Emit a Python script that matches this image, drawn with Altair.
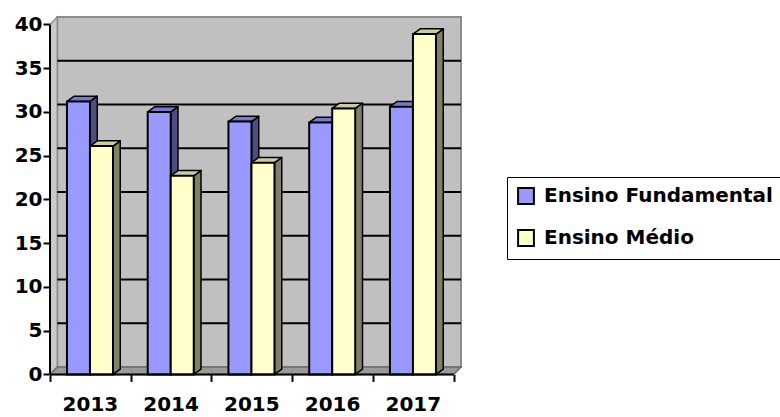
import altair as alt
import pandas as pd

years = ["2013", "2014", "2015", "2016", "2017"]
fundamental = [31.2, 30.0, 28.9, 28.8, 30.6]
medio = [26.1, 22.7, 24.2, 30.4, 38.9]
series_names = ["Ensino Fundamental", "Ensino Médio"]
y_ticks = [0, 5, 10, 15, 20, 25, 30, 35, 40]

FRONT = {"Ensino Fundamental": "#9999FF", "Ensino Médio": "#FFFFCC"}
SIDE = {"Ensino Fundamental": "#4D4D80", "Ensino Médio": "#808066"}
TOP = {"Ensino Fundamental": "#7A7ACC", "Ensino Médio": "#CCCCA3"}

# pseudo-3D geometry (data units)
DXW, DYW = 0.09, 0.85      # wall depth
DXB, DYB = 0.09, 0.6       # bar depth
BAR_L = {"Ensino Fundamental": 0.21, "Ensino Médio": 0.495}
BAR_W = 0.285
YMAX = 40
N = len(years)

xs = alt.Scale(domain=[0, N + DXW], nice=False, zero=False)
ys = alt.Scale(domain=[0, YMAX + DYW], nice=False, zero=False)
FONT = "DejaVu Sans"
xaxis = alt.Axis(values=list(range(N + 1)), labels=False, tickSize=7, tickWidth=2,
                 tickColor="black", domain=False, grid=False, title=None)
yaxis = alt.Axis(values=y_ticks, tickSize=7, tickWidth=2, tickColor="black",
                 domain=False, grid=False, title=None, labelFont=FONT,
                 labelFontWeight="bold", labelFontSize=20, labelColor="black",
                 labelPadding=1)


def X(f):
    return alt.X(f, type="quantitative", scale=xs, axis=xaxis)


def Y(f):
    return alt.Y(f, type="quantitative", scale=ys, axis=yaxis)


front_rows, side_rows, top_rows = [], [], []
for s, vals in zip(series_names, [fundamental, medio]):
    for i, v in enumerate(vals):
        x0 = i + BAR_L[s]
        x1 = x0 + BAR_W
        bid = f"{s}-{i}"
        front_rows.append({"serie": s, "x": x0, "x2": x1, "y": v, "y2": 0})
        side_rows += [
            {"id": bid, "fill": SIDE[s], "x": x1, "y": v, "y2": 0},
            {"id": bid, "fill": SIDE[s], "x": x1 + DXB, "y": v + DYB, "y2": DYB},
        ]
        top_rows += [
            {"id": bid, "fill": TOP[s], "y": v, "x": x0, "x2": x1},
            {"id": bid, "fill": TOP[s], "y": v + DYB, "x": x0 + DXB, "x2": x1 + DXB},
        ]

front_df = pd.DataFrame(front_rows)
side_df = pd.DataFrame(side_rows)
top_df = pd.DataFrame(top_rows)

back_wall = alt.Chart(pd.DataFrame([{"x": DXW, "x2": N + DXW, "y": DYW, "y2": YMAX + DYW}])).mark_rect(
    fill="#C0C0C0", stroke="#8C8C8C", strokeWidth=2
).encode(x=X("x"), x2="x2", y=Y("y"), y2="y2")

left_wall = alt.Chart(pd.DataFrame([
    {"x": 0, "y": 0, "y2": YMAX}, {"x": DXW, "y": DYW, "y2": YMAX + DYW}
])).mark_area(fill="#CACACA", stroke="#8C8C8C", strokeWidth=1.5).encode(
    x=X("x"), y=Y("y"), y2="y2")

floor = alt.Chart(pd.DataFrame([
    {"y": 0, "x": 0, "x2": N}, {"y": DYW, "x": DXW, "x2": N + DXW}
])).mark_area(orient="horizontal", fill="#9A9A9A", stroke="#6E6E6E", strokeWidth=1.5).encode(
    y=Y("y"), x=X("x"), x2="x2")

grid = alt.Chart(pd.DataFrame({"k": [t + DYW for t in y_ticks if 0 < t < YMAX]})).mark_rule(
    color="black", strokeWidth=2
).encode(y=Y("k"), x=alt.datum(DXW, scale=xs), x2=alt.datum(N + DXW))

sides = alt.Chart(side_df).mark_area(stroke="black", strokeWidth=1.5, strokeJoin="round").encode(
    x=X("x"), y=Y("y"), y2="y2", detail="id:N", color=alt.Color("fill:N", scale=None))

tops = alt.Chart(top_df).mark_area(orient="horizontal", stroke="black", strokeWidth=1.5,
                                   strokeJoin="round").encode(
    y=Y("y"), x=X("x"), x2="x2", detail="id:N", color=alt.Color("fill:N", scale=None))

fronts = alt.Chart(front_df).mark_rect(stroke="black", strokeWidth=2).encode(
    x=X("x"), x2="x2", y=Y("y"), y2="y2",
    color=alt.Color("serie:N",
                    scale=alt.Scale(domain=series_names, range=[FRONT[s] for s in series_names]),
                    sort=series_names,
                    legend=alt.Legend(title=None, orient="none", legendX=457, legendY=160,
                                      symbolType="square", symbolSize=250,
                                      symbolStrokeColor="black", symbolStrokeWidth=2,
                                      labelFont=FONT, labelFontWeight="bold",
                                      labelFontSize=20, labelColor="black", labelLimit=0,
                                      labelOffset=8, rowPadding=18, padding=9,
                                      strokeColor="black")))

x_line = alt.Chart(pd.DataFrame({"a": [0]})).mark_rule(color="black", strokeWidth=2).encode(
    x=alt.datum(0, scale=xs), x2=alt.datum(N), y=alt.datum(0, scale=ys))
y_line = alt.Chart(pd.DataFrame({"a": [0]})).mark_rule(color="black", strokeWidth=2).encode(
    x=alt.datum(0, scale=xs), y=alt.datum(0, scale=ys), y2=alt.datum(YMAX))

labels = alt.Chart(pd.DataFrame({"year": years, "pos": [i + 0.5 for i in range(N)],
                                 "base": [0] * N})).mark_text(
    font=FONT, fontWeight="bold", fontSize=20, color="black", dy=31, baseline="middle"
).encode(x=X("pos"), y=Y("base"), text="year:N")

chart = alt.layer(back_wall, left_wall, floor, grid, sides, tops, fronts, x_line, y_line, labels).properties(
    width=411, height=357.4,
    autosize=alt.AutoSizeParams(type="none"),
    padding={"left": 50, "top": 17, "right": 319, "bottom": 42},
    background="white",
).configure_view(stroke=None)

chart.save("out.html", embed_options={"renderer": "svg", "actions": False})
